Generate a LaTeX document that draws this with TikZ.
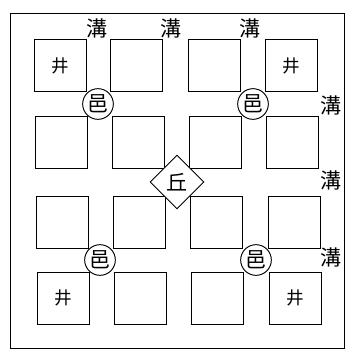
\documentclass[tikz,border=0pt]{standalone}
\usepackage{fontspec}
\newfontfamily\cjk{Noto Sans CJK SC}
\usetikzlibrary{positioning, shapes.geometric}

\begin{document}
\begin{tikzpicture}[x=0.03cm, y=-0.03cm, thick,
    % ô ruộng vuông
    plot/.style={draw, minimum width=1.56cm, minimum height=1.56cm, inner sep=0pt, font=\cjk\fontsize{15}{15}\selectfont},
    town/.style={draw, circle, fill=white, minimum size=0.92cm, inner sep=0pt, font=\cjk\fontsize{18}{18}\selectfont},
    hill/.style={draw, diamond, fill=white, minimum width=1.62cm, minimum height=1.62cm, inner sep=0pt, font=\cjk\fontsize{18}{18}\selectfont},
    ditch/.style={font=\cjk\fontsize{18}{18}\selectfont, inner sep=0pt}]

    \useasboundingbox (0,0) rectangle (349,356);

    % khung ngoài
    \node[draw, minimum width=10.02cm, minimum height=10.05cm, inner sep=0pt] (frame) at (177,180.5) {};

    % hàng 1
    \node[plot] (p11) at (60,65.5) {井};
    \node[plot] (p12) at (136.5,65.5) {};
    \node[plot] (p13) at (214,65.5) {};
    \node[plot] (p14) at (291.5,65.5) {井};
    % hàng 2
    \node[plot] (p21) at (61,142.5) {};
    \node[plot] (p22) at (138,142.5) {};
    \node[plot] (p23) at (215,142.5) {};
    \node[plot] (p24) at (292.5,142.5) {};
    % hàng 3
    \node[plot] (p31) at (62,222) {};
    \node[plot] (p32) at (139,222) {};
    \node[plot] (p33) at (216,222) {};
    \node[plot] (p34) at (294,222) {};
    % hàng 4
    \node[plot] (p41) at (63,298) {井};
    \node[plot] (p42) at (140,298) {};
    \node[plot] (p43) at (217,298) {};
    \node[plot] (p44) at (295,298) {井};

    % ấp và gò
    \node[town] (t1) at (98,104) {邑};
    \node[town] (t2) at (253,104) {邑};
    \node[town] (t3) at (100,260) {邑};
    \node[town] (t4) at (256,260) {邑};
    \node[hill] (hill) at (177,182) {丘};

    % chữ 溝
    \node[ditch] (d1) at (97,28) {溝};
    \node[ditch] (d2) at (171,28) {溝};
    \node[ditch] (d3) at (250,28) {溝};
    \node[ditch] (d4) at (331,105) {溝};
    \node[ditch] (d5) at (331,180) {溝};
    \node[ditch] (d6) at (331,257) {溝};
\end{tikzpicture}
\end{document}
